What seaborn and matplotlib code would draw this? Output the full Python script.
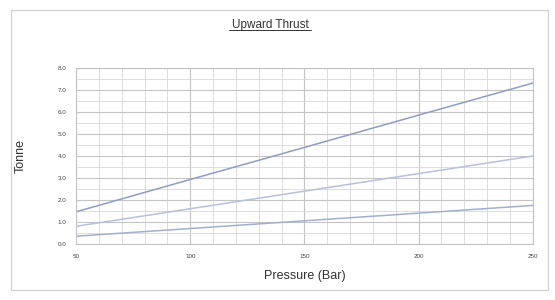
import matplotlib
matplotlib.use("Agg")
import matplotlib.pyplot as plt
import seaborn as sns
import pandas as pd
from matplotlib.patches import Rectangle
from matplotlib.ticker import MultipleLocator

pressure = [50, 100, 150, 200, 250]
thrust_large = [1.46, 2.93, 4.39, 5.86, 7.32]
thrust_medium = [0.80, 1.60, 2.40, 3.20, 4.00]
thrust_small = [0.35, 0.70, 1.05, 1.40, 1.75]
series_names = ["Large", "Medium", "Small"]
x_ticks = [50, 100, 150, 200, 250]
y_ticks = [0, 1, 2, 3, 4, 5, 6, 7, 8]

df = pd.DataFrame({
    "Pressure": pressure * 3,
    "Tonne": thrust_large + thrust_medium + thrust_small,
    "Series": [series_names[0]] * 5 + [series_names[1]] * 5 + [series_names[2]] * 5,
})

sns.set_style("white")
plt.rcParams["font.family"] = ["Liberation Sans", "DejaVu Sans"]

fig = plt.figure(figsize=(5.55, 3.0), dpi=100)
fig.patches.append(Rectangle((0.02, 0.033), 0.968, 0.933, transform=fig.transFigure,
                             fill=False, edgecolor="#d4d4d4", linewidth=1.0))
ax = fig.add_axes([0.137, 0.187, 0.823, 0.586])

palette = {"Large": "#8e9dc2", "Medium": "#b7c0dd", "Small": "#a3afcf"}
sns.lineplot(data=df, x="Pressure", y="Tonne", hue="Series", palette=palette,
             ax=ax, legend=False, linewidth=1.1)

ax.set_xlim(50, 250)
ax.set_ylim(0, 8)
ax.set_xticks(x_ticks)
ax.set_xticklabels([str(v) for v in x_ticks])
ax.set_yticks(y_ticks)
ax.set_yticklabels([f"{v:.1f}" for v in y_ticks])
ax.xaxis.set_minor_locator(MultipleLocator(10))
ax.yaxis.set_minor_locator(MultipleLocator(0.5))
ax.grid(True, which="major", color="#c4c4c4", linewidth=0.8)
ax.grid(True, which="minor", color="#d8d8d8", linewidth=0.6)
ax.set_axisbelow(True)
for s in ax.spines.values():
    s.set_color("#c4c4c4")
    s.set_linewidth(0.8)
ax.tick_params(axis="both", which="both", length=0, labelsize=4.5, colors="#444444", pad=7)

ax.set_xlabel("Pressure (Bar)", fontsize=9, color="#333333", labelpad=8)
ax.set_ylabel("Tonne", fontsize=9, color="#333333", labelpad=22)
fig.text(0.487, 0.918, "Upward Thrust", ha="center", va="center", fontsize=8.5,
         color="#333333", fontweight="normal")
fig.lines.append(plt.Line2D([0.413, 0.561], [0.899, 0.899], transform=fig.transFigure,
                            color="#333333", linewidth=0.7))

fig.savefig("out.png", dpi=100)
